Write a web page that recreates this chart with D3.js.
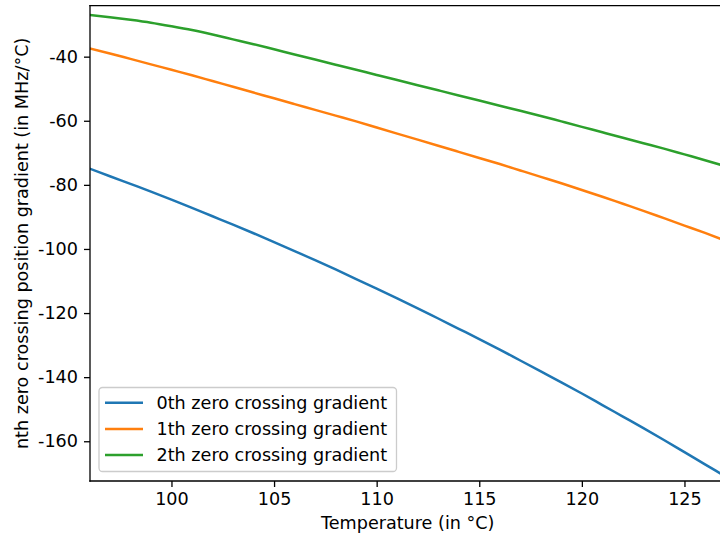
<!DOCTYPE html>
<html>
<head>
<meta charset="utf-8">
<script src="https://cdn.jsdelivr.net/npm/d3@7"></script>
<style>
  html, body { margin: 0; padding: 0; background: #fff; }
  svg { display: block; }
  text { font-family: "DejaVu Sans", sans-serif; fill: #000; }
</style>
</head>
<body>
<svg id="chart" width="720" height="537"></svg>
<script>
// ---- data ----
const temperatures = [96, 97, 98, 99, 100, 101, 102, 103, 104, 105, 106, 107, 108, 109, 110, 111,
                      112, 113, 114, 115, 116, 117, 118, 119, 120, 121, 122, 123, 124, 125, 126, 127];
const gradient0 = [-74.9, -77.3, -79.7, -82.1, -84.6, -87.2, -89.8, -92.4, -95.1, -97.9, -100.7, -103.5,
                   -106.4, -109.4, -112.4, -115.4, -118.5, -121.7, -124.9, -128.1, -131.4, -134.8,
                   -138.2, -141.6, -145.1, -148.7, -152.3, -155.9, -159.6, -163.4, -167.2, -171.0];
const gradient1 = [-37.4, -39.0, -40.7, -42.4, -44.1, -45.8, -47.6, -49.4, -51.2, -53.0, -54.8, -56.6,
                   -58.4, -60.2, -62.1, -64.0, -65.9, -67.8, -69.7, -71.6, -73.5, -75.5,
                   -77.5, -79.5, -81.6, -83.7, -85.9, -88.1, -90.4, -92.7, -95.0, -97.4];
const gradient2 = [-27.0, -27.7, -28.5, -29.4, -30.5, -31.7, -33.1, -34.6, -36.1, -37.7, -39.3, -40.9,
                   -42.5, -44.1, -45.7, -47.3, -48.9, -50.5, -52.1, -53.7, -55.3, -56.9,
                   -58.5, -60.2, -61.9, -63.6, -65.3, -67.0, -68.7, -70.5, -72.3, -74.2];
const seriesNames = ["0th zero crossing gradient", "1th zero crossing gradient", "2th zero crossing gradient"];
const seriesColors = ["#1f77b4", "#ff7f0e", "#2ca02c"];
const xTicks = [100, 105, 110, 115, 120, 125];
const yTicks = [-40, -60, -80, -100, -120, -140, -160];
const xDomain = [96.03, 127.0];
const yDomain = [-172.4, -24.1];
const xLabel = "Temperature (in °C)";
const yLabel = "nth zero crossing position gradient (in MHz/°C)";

// ---- layout ----
const pLeft = 90, pTop = 5.7, pBottom = 481, pRight = 725.5;
const fs = 17.6;
const svg = d3.select("#chart");

const x = d3.scaleLinear().domain(xDomain).range([pLeft, pRight]);
const y = d3.scaleLinear().domain(yDomain).range([pBottom, pTop]);

svg.append("defs").append("clipPath").attr("id", "plotclip")
  .append("rect").attr("x", pLeft).attr("y", pTop).attr("width", pRight - pLeft).attr("height", pBottom - pTop);

const series = [gradient0, gradient1, gradient2];
const line = d3.line().curve(d3.curveMonotoneX).x(d => x(d[0])).y(d => y(d[1]));
const g = svg.append("g").attr("clip-path", "url(#plotclip)");
series.forEach((vals, i) => {
  g.append("path")
    .datum(temperatures.map((t, j) => [t, vals[j]]))
    .attr("d", line)
    .attr("fill", "none")
    .attr("stroke", seriesColors[i])
    .attr("stroke-width", 2.5)
    .attr("stroke-linejoin", "round")
    .attr("stroke-linecap", "square");
});

// axes
const xAxis = d3.axisBottom(x).tickValues(xTicks).tickSize(6).tickPadding(6).tickFormat(d3.format("d"));
const yAxis = d3.axisLeft(y).tickValues(yTicks).tickSize(6).tickPadding(6).tickFormat(d => String(d));

const gx = svg.append("g").attr("transform", `translate(0,${pBottom})`).call(xAxis);
const gy = svg.append("g").attr("transform", `translate(${pLeft},0)`).call(yAxis);
[gx, gy].forEach(ax => {
  ax.select(".domain").remove();
  ax.selectAll(".tick line").attr("stroke", "#000").attr("stroke-width", 1.3);
  ax.selectAll(".tick text").attr("font-size", fs).attr("font-family", "DejaVu Sans").attr("fill", "#000");
});

// spines
const spine = (x1, y1, x2, y2) => svg.append("line")
  .attr("x1", x1).attr("y1", y1).attr("x2", x2).attr("y2", y2)
  .attr("stroke", "#000").attr("stroke-width", 1.3).attr("stroke-linecap", "square");
spine(pLeft, pTop, pLeft, pBottom);
spine(pLeft, pBottom, pRight, pBottom);
spine(pLeft, pTop, pRight, pTop);
spine(pRight, pTop, pRight, pBottom);

// axis labels
svg.append("text").attr("x", (pLeft + pRight) / 2).attr("y", 529)
  .attr("text-anchor", "middle").attr("font-size", fs).text(xLabel);
svg.append("text")
  .attr("transform", `translate(27.5,${(pTop + pBottom) / 2}) rotate(-90)`)
  .attr("text-anchor", "middle").attr("font-size", fs).text(yLabel);

// legend
const lg = svg.append("g");
lg.append("rect").attr("x", 99).attr("y", 387.5).attr("width", 297.5).attr("height", 84)
  .attr("rx", 3.5).attr("fill", "#fff").attr("fill-opacity", 0.8)
  .attr("stroke", "#cccccc").attr("stroke-width", 1.3);
const rowY = [402.7, 429, 455];
seriesNames.forEach((name, i) => {
  lg.append("line").attr("x1", 105).attr("x2", 143).attr("y1", rowY[i]).attr("y2", rowY[i])
    .attr("stroke", seriesColors[i]).attr("stroke-width", 2.5);
  lg.append("text").attr("x", 156.5).attr("y", rowY[i]).attr("dy", "0.36em")
    .attr("font-size", fs).text(name);
});
</script>
</body>
</html>
